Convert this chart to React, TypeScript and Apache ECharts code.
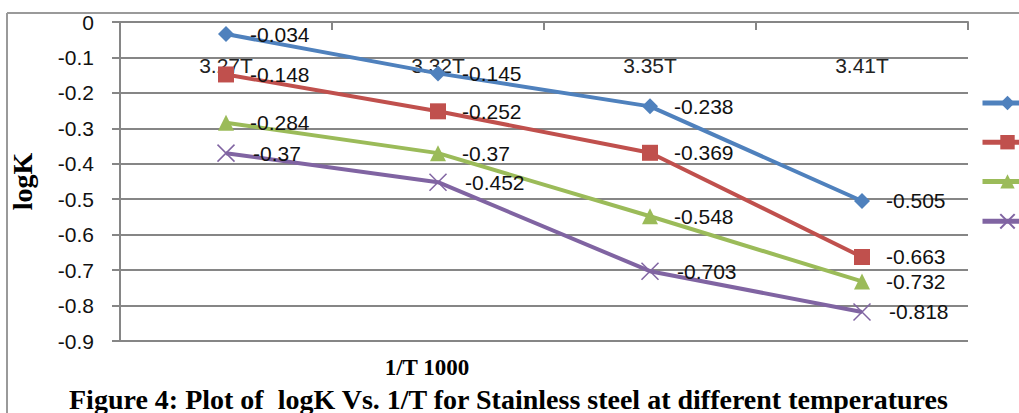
import React, { useEffect, useRef } from "react";
import * as echarts from "echarts";

const categories = ["3.27T", "3.32T", "3.35T", "3.41T"];
const seriesNames = ["Series 1", "Series 2", "Series 3", "Series 4"];
const blueValues = [-0.034, -0.145, -0.238, -0.505];
const redValues = [-0.148, -0.252, -0.369, -0.663];
const greenValues = [-0.284, -0.37, -0.548, -0.732];
const purpleValues = [-0.37, -0.452, -0.703, -0.818];
const yTicks = { min: -0.9, max: 0, interval: 0.1 };

const colors = ["#4F81BD", "#C0504D", "#9BBB59", "#8064A2"];
const symbols = [
  "diamond",
  "rect",
  "triangle",
  "path://M0,0L10,10M10,0L0,10",
];
const symbolSizes = [16, 16, 16, 17];
const sans = "Liberation Sans";
const serif = "Liberation Serif";

export default function App() {
  const ref = useRef<HTMLDivElement>(null);
  useEffect(() => {
    if (!ref.current) return;
    const chart = echarts.init(ref.current, undefined, { renderer: "svg" });
    const all = [blueValues, redValues, greenValues, purpleValues];
    const series = all.map((vals, i) => ({
      name: seriesNames[i],
      type: "line",
      data: vals,
      color: colors[i],
      symbol: symbols[i],
      symbolSize: symbolSizes[i],
      showAllSymbol: true,
      lineStyle: { width: 4, color: colors[i] },
      itemStyle:
        i === 3
          ? { color: "none", borderColor: colors[i], borderWidth: 1.5 }
          : { color: colors[i] },
      label: {
        show: true,
        position: "right",
        distance: 16,
        color: "#111",
        fontFamily: sans,
        fontSize: 21,
      },
      z: 3 + i,
    }));
    chart.setOption({
      animation: false,
      backgroundColor: "#ffffff",
      title: {
        text: "Figure 4: Plot of  logK Vs. 1/T for Stainless steel at different temperatures",
        left: 64,
        top: 380,
        textStyle: {
          fontFamily: serif,
          fontWeight: "bold",
          fontSize: 28,
          color: "#000",
        },
      },
      legend: {
        left: 975,
        top: 89,
        orient: "vertical",
        itemWidth: 50,
        itemHeight: 18,
        itemGap: 23,
        formatter: () => "",
        lineStyle: { width: 5, inactiveWidth: 5 },
        data: seriesNames,
      },
      grid: { left: 111, right: 51, top: 22, bottom: 72 },
      xAxis: {
        type: "category",
        data: categories,
        position: "top",
        boundaryGap: true,
        axisLine: { show: true, lineStyle: { color: "#868686", width: 2 } },
        axisTick: { show: true, inside: true, length: 8, lineStyle: { color: "#868686", width: 2 } },
        axisLabel: {
          inside: true,
          margin: 33,
          color: "#222",
          fontFamily: sans,
          fontSize: 21,
        },
        splitLine: { show: false },
      },
      yAxis: {
        type: "value",
        min: yTicks.min,
        max: yTicks.max,
        interval: yTicks.interval,
        name: "logK",
        nameLocation: "middle",
        nameRotate: 90,
        nameGap: 84,
        nameTextStyle: {
          fontFamily: serif,
          fontWeight: "bold",
          fontSize: 28,
          color: "#000",
        },
        axisLine: { show: true, lineStyle: { color: "#868686", width: 2 } },
        axisTick: { show: true, length: 8, lineStyle: { color: "#868686", width: 2 } },
        axisLabel: {
          margin: 26,
          color: "#111",
          fontFamily: sans,
          fontSize: 21,
        },
        splitLine: { show: true, lineStyle: { color: "#868686", width: 2 } },
      },
      graphic: [
        {
          type: "line",
          shape: { x1: 7, y1: 13, x2: 1019, y2: 13 },
          style: { stroke: "#9a9a9a", lineWidth: 2 },
        },
        {
          type: "line",
          shape: { x1: 7, y1: 13, x2: 7, y2: 413 },
          style: { stroke: "#9a9a9a", lineWidth: 2 },
        },
        {
          type: "text",
          x: 427,
          y: 367,
          style: {
            text: "1/T 1000",
            fontFamily: serif,
            fontWeight: "bold",
            fontSize: 23,
            fill: "#000",
            align: "center",
            verticalAlign: "middle",
          },
        },
      ],
      series,
    });
    return () => chart.dispose();
  }, []);
  return (
    <div
      ref={ref}
      style={{ position: "fixed", left: 0, top: 0, width: 1019, height: 413 }}
    />
  );
}
